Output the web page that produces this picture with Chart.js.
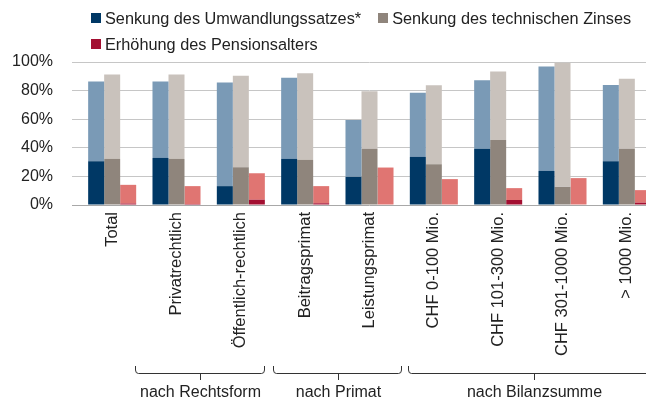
<!DOCTYPE html>
<html>
<head>
<meta charset="utf-8">
<script src="https://cdn.jsdelivr.net/npm/chart.js@4.4.1/dist/chart.umd.min.js"></script>
<style>
    html, body { margin: 0; padding: 0; background: #fff; }
    #wrap { position: relative; width: 646px; height: 403px; overflow: hidden; }
    #chart { position: absolute; left: 0; top: 0; }
    #legend {
        position: absolute; left: 91px; top: 5px; width: 560px;
        display: flex; flex-wrap: wrap; column-gap: 17px;
        font: 16.3px "Liberation Sans", Arial, sans-serif; color: #222; line-height: 26px;
    }
    .item { display: flex; align-items: center; white-space: nowrap; }
    .box { width: 10px; height: 10px; margin-right: 4px; }
</style>
</head>
<body>
<div id="wrap">
    <canvas id="chart" width="662" height="403"></canvas>
    <div id="legend"></div>
</div>
<script>
// ===== Data (percent) =====
const categories = ['Total', 'Privatrechtlich', 'Öffentlich-rechtlich', 'Beitragsprimat', 'Leistungsprimat',
    'CHF 0-100 Mio.', 'CHF 101-300 Mio.', 'CHF 301-1000 Mio.', '> 1000 Mio.'];

// dark part (bottom) and light part (on top) of each bar
const umwandlungDark  = [30.6, 32.9, 13.2, 32.2, 19.7, 33.6, 39.4, 23.8, 30.6];
const umwandlungLight = [55.7, 53.4, 72.4, 56.7, 39.8, 44.9, 47.9, 73.0, 53.4];
const zinsDark        = [32.2, 32.2, 26.4, 31.5, 39.4, 28.5, 45.4, 12.7, 39.4];
const zinsLight       = [59.0, 59.0, 63.9, 60.6, 40.2, 55.3, 47.9, 86.8, 48.8];
const alterDark       = [1.0, 0.7, 3.7, 1.2, 0, 0, 3.5, 0, 1.6];
const alterLight      = [13.1, 12.5, 18.5, 12.0, 26.2, 18.1, 8.3, 18.8, 8.8];

const seriesLabels = ['Senkung des Umwandlungssatzes*', 'Senkung des technischen Zinses', 'Erhöhung des Pensionsalters'];
const groupLabels = ['nach Rechtsform', 'nach Primat', 'nach Bilanzsumme'];

// ===== Layout / style =====
const FONT = '"Liberation Sans", Arial, sans-serif';
const darkColors  = ['#003865', '#8f857c', '#a30f31'];
const lightColors = ['#7a9ab6', '#c9c2bc', '#e07572'];
// bracket spans, in category widths from the left edge of the x scale
const groupSpans = [[0.855, 2.877], [3.0, 5.008], [5.096, 9.0]];

const bracketPlugin = {
    id: 'brackets',
    afterDraw(chart) {
        const x = chart.scales.x;
        const w = (x.right - x.left) / categories.length;
        const ctx = chart.ctx;
        ctx.save();
        ctx.strokeStyle = '#333';
        ctx.lineWidth = 1;
        ctx.fillStyle = '#222';
        ctx.font = '16px ' + FONT;
        ctx.textAlign = 'center';
        ctx.textBaseline = 'middle';
        groupSpans.forEach(function(s, i) {
            const x0 = Math.round(x.left + s[0] * w) + 0.5;
            const x1 = Math.round(x.left + s[1] * w) - 0.5;
            const xc = Math.round((x0 + x1) / 2) + 0.5;
            ctx.beginPath();
            ctx.moveTo(x0, 366);
            ctx.lineTo(x0, 370);
            ctx.quadraticCurveTo(x0, 373.5, x0 + 3, 373.5);
            ctx.lineTo(x1 - 3, 373.5);
            ctx.quadraticCurveTo(x1, 373.5, x1, 370);
            ctx.lineTo(x1, 366);
            ctx.moveTo(xc, 373.5);
            ctx.lineTo(xc, 380);
            ctx.stroke();
            ctx.fillText(groupLabels[i], xc, 393);
        });
        ctx.restore();
    }
};

function ds(label, data, color, stack) {
    return { label: label, data: data, backgroundColor: color, stack: stack,
             borderWidth: 0, barPercentage: 1, categoryPercentage: 0.7465 };
}

new Chart(document.getElementById('chart'), {
    type: 'bar',
    data: {
        labels: categories,
        datasets: [
            ds(seriesLabels[0], umwandlungDark, darkColors[0], 'a'),
            ds(seriesLabels[0], umwandlungLight, lightColors[0], 'a'),
            ds(seriesLabels[1], zinsDark, darkColors[1], 'b'),
            ds(seriesLabels[1], zinsLight, lightColors[1], 'b'),
            ds(seriesLabels[2], alterDark, darkColors[2], 'c'),
            ds(seriesLabels[2], alterLight, lightColors[2], 'c')
        ]
    },
    options: {
        responsive: false,
        animation: false,
        devicePixelRatio: 1,
        layout: { padding: { top: 62, bottom: 38, right: 3, left: 0 } },
        plugins: { legend: { display: false }, tooltip: { enabled: false } },
        scales: {
            x: {
                stacked: true,
                grid: { display: false, drawTicks: false },
                border: { display: false },
                ticks: {
                    minRotation: 90, maxRotation: 90, autoSkip: false, padding: 7,
                    color: '#222', font: { family: FONT, size: 16.5 }
                },
                afterFit: function(scale) { scale.height = 160; }
            },
            y: {
                stacked: true,
                min: 0, max: 100,
                grid: {
                    color: function(c) { return c.tick.value === 0 ? '#a8a8a8' : '#c6c6c6'; },
                    tickLength: 8, drawTicks: true
                },
                border: { display: false },
                ticks: {
                    stepSize: 20, padding: 19, color: '#222',
                    font: { family: FONT, size: 16 },
                    callback: function(v) { return v + '%'; }
                },
                afterFit: function(scale) { scale.width = 80; }
            }
        }
    },
    plugins: [bracketPlugin]
});

// ===== HTML legend =====
const legend = document.getElementById('legend');
seriesLabels.forEach(function(label, i) {
    const item = document.createElement('div');
    item.className = 'item';
    const box = document.createElement('span');
    box.className = 'box';
    box.style.background = darkColors[i];
    item.appendChild(box);
    item.appendChild(document.createTextNode(label));
    legend.appendChild(item);
});
</script>
</body>
</html>
